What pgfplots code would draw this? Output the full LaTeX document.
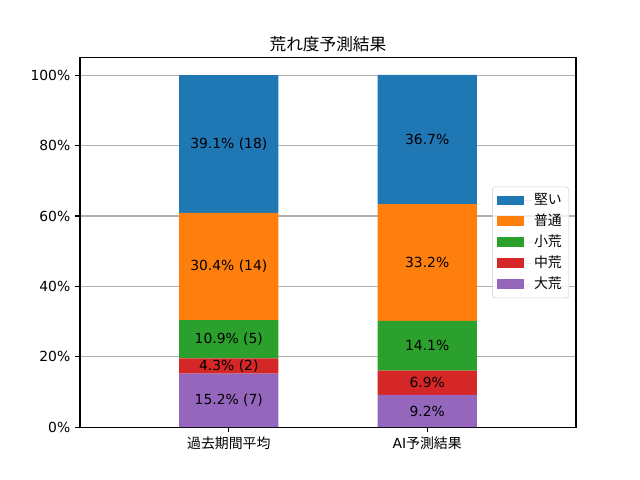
\documentclass[border=0pt]{standalone}
\usepackage{pgfplots}
\pgfplotsset{compat=1.18}
\usepackage{fontspec}
\setmainfont{DejaVu Sans}
\newfontfamily\jp{Noto Sans CJK JP}
\definecolor{tabblue}{HTML}{1F77B4}
\definecolor{taborange}{HTML}{FF7F0E}
\definecolor{tabgreen}{HTML}{2CA02C}
\definecolor{tabred}{HTML}{D62728}
\definecolor{tabpurple}{HTML}{9467BD}
\definecolor{gridgray}{HTML}{B0B0B0}
\definecolor{legedge}{HTML}{CCCCCC}
\begin{document}
\begin{tikzpicture}
\useasboundingbox[fill=white] (0,0) rectangle (460.8pt,345.6pt);
\begin{axis}[
  at={(57.6pt,38.016pt)}, anchor=south west,
  scale only axis, width=357.12pt, height=266.11pt,
  xmin=-0.75, xmax=1.75, ymin=0, ymax=105,
  ybar stacked, bar width=0.5,
  xtick={0,1}, xticklabels={{\jp 過去期間平均},{AI{\jp 予測結果}}},
  ytick={0,20,40,60,80,100},
  yticklabels={0\%,20\%,40\%,60\%,80\%,100\%},
  tick align=outside, xtick pos=bottom, ytick pos=left,
  major tick length=3.5pt,
  tick style={black, line width=0.8pt},
  axis line style={black, line width=0.8pt},
  ymajorgrids, grid style={gridgray, line width=0.8pt},
  ticklabel style={font=\fontsize{10}{12}\selectfont},
  title={\jp 荒れ度予測結果},
  title style={font=\fontsize{12}{14}\selectfont, yshift=-5.5pt},
  reverse legend,
  legend style={at={(1,0.5)}, anchor=east, xshift=-5pt,
    draw=legedge, rounded corners=2pt, fill=white, fill opacity=0.8, text opacity=1,
    font=\fontsize{10}{12}\selectfont, row sep=1.2pt, inner sep=3pt},
  legend cell align=left,
  legend image code/.code={\fill[#1, sharp corners, fill opacity=1] (0pt,-3.5pt) rectangle (20pt,3.5pt);
    \path (20pt,0pt) -- (25pt,0pt);},
]
\addplot[fill=tabpurple, draw=none] coordinates {(0,15.217) (1,9.2)};
\addlegendentry{\jp 大荒}
\addplot[fill=tabred, draw=none] coordinates {(0,4.348) (1,6.9)};
\addlegendentry{\jp 中荒}
\addplot[fill=tabgreen, draw=none] coordinates {(0,10.870) (1,14.1)};
\addlegendentry{\jp 小荒}
\addplot[fill=taborange, draw=none] coordinates {(0,30.435) (1,33.2)};
\addlegendentry{\jp 普通}
\addplot[fill=tabblue, draw=none] coordinates {(0,39.130) (1,36.7)};
\addlegendentry{\jp 堅い}
\end{axis}
\begin{axis}[
  at={(57.6pt,38.016pt)}, anchor=south west,
  scale only axis, width=357.12pt, height=266.11pt,
  xmin=-0.75, xmax=1.75, ymin=0, ymax=105,
  hide axis,
]
\addplot[draw=none, mark=none, nodes near coords, point meta=explicit symbolic,
  nodes near coords style={anchor=center, text=black, font=\fontsize{10}{12}\selectfont}]
  coordinates {
  (0,7.609) [15.2\% (7)]
  (0,17.391) [4.3\% (2)]
  (0,25.0) [10.9\% (5)]
  (0,45.652) [30.4\% (14)]
  (0,80.435) [39.1\% (18)]
  (1,4.6) [9.2\%]
  (1,12.65) [6.9\%]
  (1,23.15) [14.1\%]
  (1,46.8) [33.2\%]
  (1,81.75) [36.7\%]
  };
\end{axis}
\end{tikzpicture}
\end{document}
